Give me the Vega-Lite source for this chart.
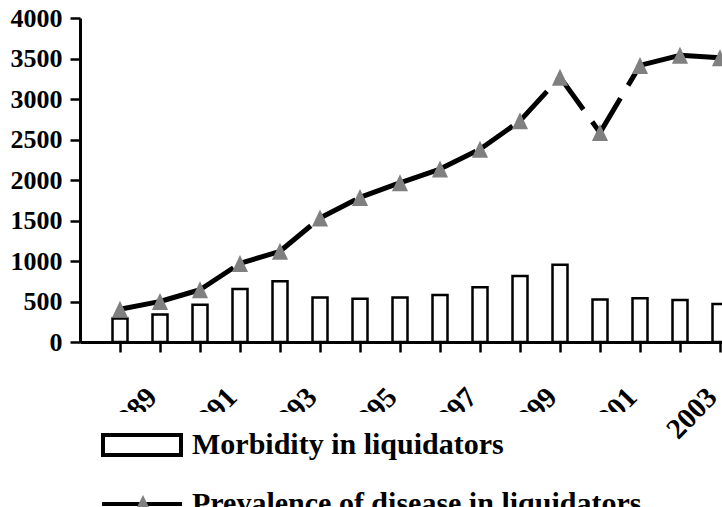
{
  "$schema": "https://vega.github.io/schema/vega-lite/v6.json",
  "autosize": {"type": "none"},
  "padding": {"left": 80, "top": 18, "right": 0, "bottom": 165},
  "width": 642,
  "height": 324,
  "background": "white",
  "config": {
    "view": {"stroke": null},
    "axis": {
      "labelFont": "Liberation Serif",
      "labelFontWeight": "bold",
      "labelColor": "black",
      "domainColor": "black",
      "tickColor": "black",
      "grid": false,
      "domainWidth": 3,
      "tickWidth": 2.5
    }
  },
  "data": {
    "values": [
      {"year": 1989, "series": "Morbidity in liquidators", "value": 290},
      {"year": 1990, "series": "Morbidity in liquidators", "value": 340},
      {"year": 1991, "series": "Morbidity in liquidators", "value": 460},
      {"year": 1992, "series": "Morbidity in liquidators", "value": 655},
      {"year": 1993, "series": "Morbidity in liquidators", "value": 750},
      {"year": 1994, "series": "Morbidity in liquidators", "value": 550},
      {"year": 1995, "series": "Morbidity in liquidators", "value": 535},
      {"year": 1996, "series": "Morbidity in liquidators", "value": 550},
      {"year": 1997, "series": "Morbidity in liquidators", "value": 580},
      {"year": 1998, "series": "Morbidity in liquidators", "value": 675},
      {"year": 1999, "series": "Morbidity in liquidators", "value": 815},
      {"year": 2000, "series": "Morbidity in liquidators", "value": 955},
      {"year": 2001, "series": "Morbidity in liquidators", "value": 525},
      {"year": 2002, "series": "Morbidity in liquidators", "value": 540},
      {"year": 2003, "series": "Morbidity in liquidators", "value": 520},
      {"year": 2004, "series": "Morbidity in liquidators", "value": 470},
      {"year": 1989, "series": "Prevalence of disease in liquidators", "value": 405},
      {"year": 1990, "series": "Prevalence of disease in liquidators", "value": 500},
      {"year": 1991, "series": "Prevalence of disease in liquidators", "value": 645},
      {"year": 1992, "series": "Prevalence of disease in liquidators", "value": 970},
      {"year": 1993, "series": "Prevalence of disease in liquidators", "value": 1120},
      {"year": 1994, "series": "Prevalence of disease in liquidators", "value": 1530},
      {"year": 1995, "series": "Prevalence of disease in liquidators", "value": 1785},
      {"year": 1996, "series": "Prevalence of disease in liquidators", "value": 1965},
      {"year": 1997, "series": "Prevalence of disease in liquidators", "value": 2135},
      {"year": 1998, "series": "Prevalence of disease in liquidators", "value": 2380},
      {"year": 1999, "series": "Prevalence of disease in liquidators", "value": 2730},
      {"year": 2000, "series": "Prevalence of disease in liquidators", "value": 3270},
      {"year": 2001, "series": "Prevalence of disease in liquidators", "value": 2585},
      {"year": 2002, "series": "Prevalence of disease in liquidators", "value": 3415},
      {"year": 2003, "series": "Prevalence of disease in liquidators", "value": 3540},
      {"year": 2004, "series": "Prevalence of disease in liquidators", "value": 3510}
    ]
  },
  "encoding": {
    "x": {
      "field": "year",
      "type": "ordinal",
      "scale": {"range": [0, 680], "paddingInner": 0.625, "paddingOuter": 0.8125},
      "axis": {
        "title": null,
        "labelAngle": -46,
        "labelAlign": "center",
        "labelBaseline": "middle",
        "labelOffset": 12,
        "labelPadding": 61,
        "tickSize": 10,
        "labelFontSize": 29,
        "labelOverlap": false,
        "labelExpr": "datum.value % 2 == 1 ? datum.label : ''"
      }
    }
  },
  "layer": [
    {
      "transform": [{"filter": "datum.series === 'Morbidity in liquidators'"}],
      "mark": {"type": "bar", "fill": "white", "stroke": "black", "strokeWidth": 2.5},
      "encoding": {
        "y": {
          "field": "value",
          "type": "quantitative",
          "scale": {"domain": [0, 4000], "nice": false},
          "axis": {
            "title": null,
            "values": [0, 500, 1000, 1500, 2000, 2500, 3000, 3500, 4000],
            "format": "d",
            "tickSize": 10,
            "labelPadding": 8,
            "labelFontSize": 26
          }
        }
      }
    },
    {
      "transform": [
        {"filter": "datum.series === 'Prevalence of disease in liquidators'"},
        {
          "window": [
            {"op": "lead", "field": "value", "as": "value2"},
            {"op": "lead", "field": "year", "as": "year2"}
          ],
          "sort": [{"field": "year", "order": "ascending"}]
        },
        {"filter": "datum.year2 != null"}
      ],
      "mark": {"type": "rule", "stroke": "black", "strokeWidth": 5, "strokeDash": [40, 15]},
      "encoding": {
        "x2": {"field": "year2"},
        "y": {"field": "value", "type": "quantitative"},
        "y2": {"field": "value2"}
      }
    },
    {
      "transform": [{"filter": "datum.series === 'Prevalence of disease in liquidators'"}],
      "mark": {"type": "point", "shape": "M0,-1L0.95,1L-0.95,1Z", "filled": true, "size": 289, "opacity": 1, "strokeWidth": 0},
      "encoding": {
        "y": {"field": "value", "type": "quantitative"},
        "color": {
          "field": "series",
          "type": "nominal",
          "scale": {"domain": ["Prevalence of disease in liquidators"], "range": ["#808080"]},
          "legend": {
            "orient": "none",
            "legendX": 9,
            "legendY": 453,
            "title": null,
            "padding": 11,
            "symbolSize": 1600,
            "symbolStrokeWidth": 4,
            "symbolType": "M1.05,-0.45L1.47,0.4L0.63,0.4Z",
            "labelFontSize": 30,
            "labelFont": "Liberation Serif",
            "labelExpr": "''",
            "zindex": 2,
            "encode": {
              "symbols": {
                "update": {
                  "shape": {"value": "M1.05,-0.45L1.47,0.4L0.63,0.4Z"},
                  "fill": {"value": "#808080"},
                  "stroke": {"value": "transparent"},
                  "opacity": {"value": 1}
                }
              }
            }
          }
        }
      }
    },
    {
      "mark": {"type": "point", "opacity": 0},
      "encoding": {
        "y": {"field": "value", "type": "quantitative"},
        "shape": {
          "field": "series",
          "type": "nominal",
          "scale": {
            "domain": ["Morbidity in liquidators", "Prevalence of disease in liquidators"],
            "range": ["M-0.95,-0.5L2.95,-0.5L2.95,0.5L-0.95,0.5Z", "M-1,0L3,0"]
          },
          "legend": {
            "orient": "none",
            "legendX": 9,
            "legendY": 394,
            "title": null,
            "padding": 11,
            "fillColor": "white",
            "symbolSize": 1600,
            "symbolStrokeWidth": 4,
            "symbolStrokeColor": "black",
            "labelFont": "Liberation Serif",
            "labelFontWeight": "bold",
            "labelFontSize": 30,
            "labelColor": "black",
            "labelOffset": 48,
            "labelLimit": 1000,
            "rowPadding": 19,
            "direction": "vertical",
            "zindex": 1,
            "encode": {
              "symbols": {
                "update": {
                  "opacity": {"value": 1},
                  "fill": {"signal": "datum.value === 'Morbidity in liquidators' ? 'white' : 'transparent'"},
                  "stroke": {"value": "black"},
                  "strokeWidth": {"signal": "datum.value === 'Morbidity in liquidators' ? 3 : 5"},
                  "strokeDash": {"signal": "datum.value === 'Morbidity in liquidators' ? [] : [33, 23]"}
                }
              }
            }
          }
        }
      }
    }
  ]
}
